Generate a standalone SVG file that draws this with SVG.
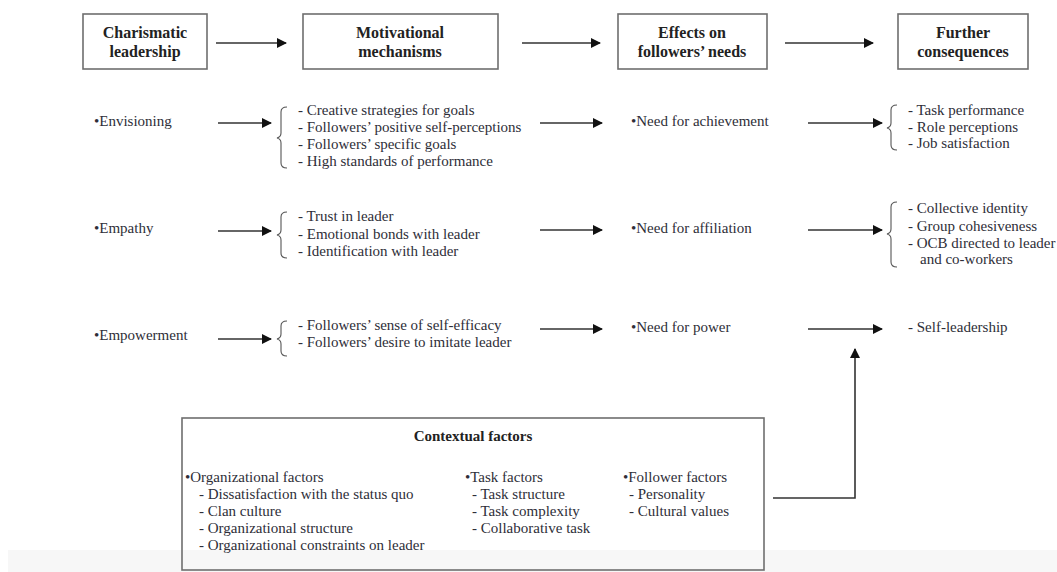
<svg xmlns="http://www.w3.org/2000/svg" width="1057" height="572" viewBox="0 0 1057 572">
  <style>
    text { font-family: "Liberation Serif", "Times New Roman", serif; fill: #2e2e38; }
    .hd { font-family: "Liberation Serif", "Times New Roman", serif; font-size: 16px; font-weight: bold; text-anchor: middle; fill: #222; }
    .t { font-family: "Liberation Serif", "Times New Roman", serif; font-size: 15px; }
    .box { fill: #fff; stroke: #6e6e6e; stroke-width: 1.6; }
    .conn { fill: none; stroke: #333; stroke-width: 1.6; }
    .brace { fill: none; stroke: #555; stroke-width: 1.1; }
  </style>
  <defs>
    <marker id="ah" viewBox="0 0 10 10" refX="9" refY="5" markerWidth="10" markerHeight="10" markerUnits="userSpaceOnUse" orient="auto">
      <path d="M0,0 L10,5 L0,10 z" fill="#111"/>
    </marker>
  </defs>

  <!-- page footer band -->
  <rect x="8" y="550" width="1049" height="22" fill="#f7f7f7"/>

  <!-- column headers -->
  <g id="hdr-charismatic">
    <rect class="box" x="83" y="14" width="124" height="55"/>
    <text class="hd" x="145" y="38">Charismatic</text>
    <text class="hd" x="145" y="57">leadership</text>
  </g>
  <g id="hdr-motivational">
    <rect class="box" x="303" y="14" width="195" height="55"/>
    <text class="hd" x="400" y="38">Motivational</text>
    <text class="hd" x="400" y="57">mechanisms</text>
  </g>
  <g id="hdr-effects">
    <rect class="box" x="618" y="14" width="149" height="55"/>
    <text class="hd" x="692" y="38">Effects on</text>
    <text class="hd" x="692" y="57">followers’ needs</text>
  </g>
  <g id="hdr-further">
    <rect class="box" x="898" y="14" width="130" height="55"/>
    <text class="hd" x="963" y="38">Further</text>
    <text class="hd" x="963" y="57">consequences</text>
  </g>

  <!-- row 1: envisioning -->
  <g id="envisioning">
    <text class="t" x="94" y="126">•Envisioning</text>
  </g>
  <g id="mech-envisioning">
    <path class="brace" d="M287,107 Q281,107 281,112 V133 Q281,137 277,138 Q281,139 281,143 V163 Q281,168 287,168"/>
    <text class="t" x="298" y="115">- Creative strategies for goals</text>
    <text class="t" x="298" y="132">- Followers’ positive self-perceptions</text>
    <text class="t" x="298" y="149">- Followers’ specific goals</text>
    <text class="t" x="298" y="166">- High standards of performance</text>
  </g>
  <g id="need-achievement">
    <text class="t" x="631" y="126">•Need for achievement</text>
  </g>
  <g id="cons-achievement">
    <path class="brace" d="M897,105 Q891,105 891,110 V123 Q891,127 887,128 Q891,129 891,133 V145 Q891,150 897,150"/>
    <text class="t" x="908" y="115">- Task performance</text>
    <text class="t" x="908" y="132">- Role perceptions</text>
    <text class="t" x="908" y="148">- Job satisfaction</text>
  </g>

  <!-- row 2: empathy -->
  <g id="empathy">
    <text class="t" x="94" y="233">•Empathy</text>
  </g>
  <g id="mech-empathy">
    <path class="brace" d="M287,212 Q281,212 281,217 V230 Q281,234 277,235 Q281,236 281,240 V253 Q281,258 287,258"/>
    <text class="t" x="298" y="221">- Trust in leader</text>
    <text class="t" x="298" y="239">- Emotional bonds with leader</text>
    <text class="t" x="298" y="256">- Identification with leader</text>
  </g>
  <g id="need-affiliation">
    <text class="t" x="631" y="233">•Need for affiliation</text>
  </g>
  <g id="cons-affiliation">
    <path class="brace" d="M897,202 Q891,202 891,207 V229 Q891,233 887,234 Q891,235 891,239 V262 Q891,267 897,267"/>
    <text class="t" x="908" y="213">- Collective identity</text>
    <text class="t" x="908" y="231">- Group cohesiveness</text>
    <text class="t" x="908" y="248">- OCB directed to leader</text>
    <text class="t" x="920" y="264">and co-workers</text>
  </g>

  <!-- row 3: empowerment -->
  <g id="empowerment">
    <text class="t" x="94" y="340">•Empowerment</text>
  </g>
  <g id="mech-empowerment">
    <path class="brace" d="M287,321 Q281,321 281,326 V334 Q281,338 277,339 Q281,340 281,344 V351 Q281,356 287,356"/>
    <text class="t" x="298" y="330">- Followers’ sense of self-efficacy</text>
    <text class="t" x="298" y="347">- Followers’ desire to imitate leader</text>
  </g>
  <g id="need-power">
    <text class="t" x="631" y="332">•Need for power</text>
  </g>
  <g id="cons-power">
    <text class="t" x="908" y="332">- Self-leadership</text>
  </g>

  <!-- contextual factors -->
  <g id="contextual">
    <rect x="182" y="418" width="582" height="152" fill="none" stroke="#6e6e6e" stroke-width="1.6"/>
    <text class="t" x="473" y="441" font-weight="bold" text-anchor="middle" style="fill:#222">Contextual factors</text>
    <text class="t" x="185" y="482">•Organizational factors</text>
    <text class="t" x="199" y="499">- Dissatisfaction with the status quo</text>
    <text class="t" x="199" y="516">- Clan culture</text>
    <text class="t" x="199" y="533">- Organizational structure</text>
    <text class="t" x="199" y="550">- Organizational constraints on leader</text>
    <text class="t" x="465" y="482">•Task factors</text>
    <text class="t" x="472" y="499">- Task structure</text>
    <text class="t" x="472" y="516">- Task complexity</text>
    <text class="t" x="472" y="533">- Collaborative task</text>
    <text class="t" x="623" y="482">•Follower factors</text>
    <text class="t" x="629" y="499">- Personality</text>
    <text class="t" x="629" y="516">- Cultural values</text>
  </g>

  <!-- connectors -->
  <g id="connectors">
    <line class="conn" x1="216" y1="43" x2="286" y2="43" marker-end="url(#ah)"/>
    <line class="conn" x1="522" y1="43" x2="600" y2="43" marker-end="url(#ah)"/>
    <line class="conn" x1="785" y1="43" x2="873" y2="43" marker-end="url(#ah)"/>

    <line class="conn" x1="218" y1="123" x2="271" y2="123" marker-end="url(#ah)"/>
    <line class="conn" x1="540" y1="123" x2="602" y2="123" marker-end="url(#ah)"/>
    <line class="conn" x1="808" y1="123" x2="882" y2="123" marker-end="url(#ah)"/>

    <line class="conn" x1="218" y1="231" x2="271" y2="231" marker-end="url(#ah)"/>
    <line class="conn" x1="540" y1="230" x2="602" y2="230" marker-end="url(#ah)"/>
    <line class="conn" x1="808" y1="230" x2="882" y2="230" marker-end="url(#ah)"/>

    <line class="conn" x1="218" y1="339" x2="271" y2="339" marker-end="url(#ah)"/>
    <line class="conn" x1="540" y1="329" x2="602" y2="329" marker-end="url(#ah)"/>
    <line class="conn" x1="808" y1="329" x2="882" y2="329" marker-end="url(#ah)"/>

    <path class="conn" d="M773,498 H855 V349" marker-end="url(#ah)"/>
  </g>
</svg>
